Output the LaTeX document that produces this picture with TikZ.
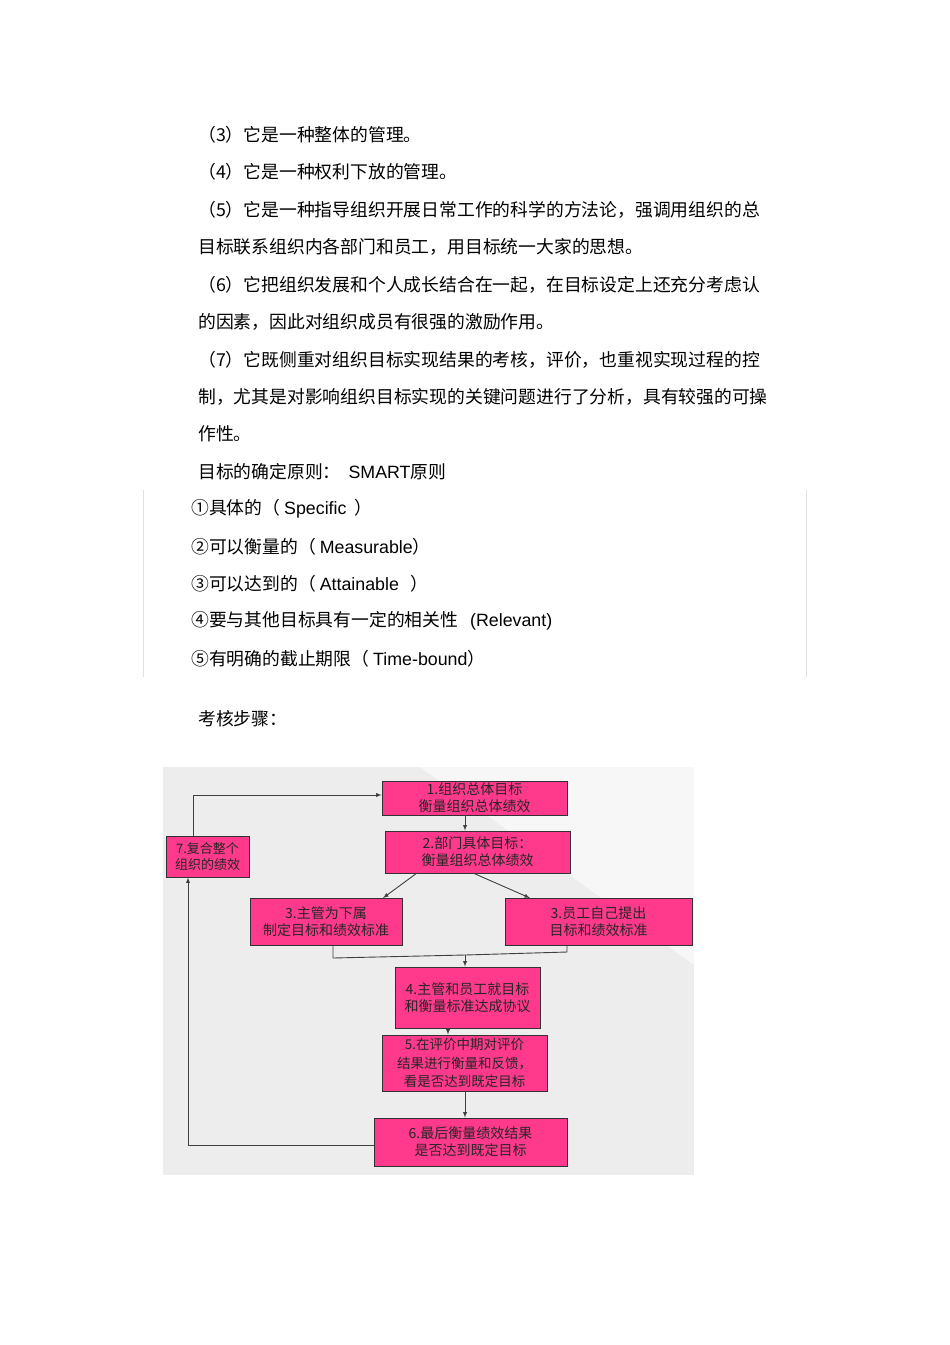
\documentclass[tikz,border=0pt]{standalone}
\usepackage{fontspec}
\setmainfont{Liberation Sans}
\newfontfamily\cjk{Noto Sans CJK SC}
\begin{document}
\begin{tikzpicture}[x=1pt,y=-1pt,
  txt/.style={anchor=west,inner sep=0pt,font=\fontsize{17.8}{20}\selectfont\cjk},
  bx/.style={draw=black!80,fill=pinkbox,line width=0.9pt,align=center,inner sep=0pt,font=\fontsize{14}{17}\selectfont\cjk,text=black!85},
  ar/.style={-latex,line width=0.9pt,draw=black!75},
  ln/.style={line width=0.9pt,draw=black!75}]
\definecolor{pinkbox}{HTML}{FF3A8C}
\useasboundingbox (0,0) rectangle (950,1345);
\fill[white] (0,0) rectangle (950,1345);
\node[txt] (t1) at (198,135) {（3）它是一种整体的管理。};
\node[txt] (t2) at (198,172) {（4）它是一种权利下放的管理。};
\node[txt] (t3) at (198,210) {（5）它是一种指导组织开展日常工作的科学的方法论，强调用组织的总};
\node[txt] (t4) at (198,247) {目标联系组织内各部门和员工，用目标统一大家的思想。};
\node[txt] (t5) at (198,285) {（6）它把组织发展和个人成长结合在一起，在目标设定上还充分考虑认};
\node[txt] (t6) at (198,322) {的因素，因此对组织成员有很强的激励作用。};
\node[txt] (t7) at (198,360) {（7）它既侧重对组织目标实现结果的考核，评价，也重视实现过程的控};
\node[txt] (t8) at (198,397) {制，尤其是对影响组织目标实现的关键问题进行了分析，具有较强的可操};
\node[txt] (t9) at (198,434) {作性。};
\node[txt] (t10) at (198,472) {目标的确定原则：\ \ {\fontspec{Liberation Sans}SMART}原则};
\draw[black!12,line width=0.6pt] (143,490) -- (143,677) (806,490) -- (806,677);
\node[txt] (s1) at (191,509) {①具体的（ {\fontspec{Liberation Sans}Specific}\ \ ）};
\node[txt] (s2) at (191,547) {②可以衡量的（ {\fontspec{Liberation Sans}Measurable}）};
\node[txt] (s3) at (191,584) {③可以达到的（ {\fontspec{Liberation Sans}Attainable}\ \ \ ）};
\node[txt] (s4) at (191,621) {④要与其他目标具有一定的相关性\ \ \ {\fontspec{Liberation Sans}(Relevant)}};
\node[txt] (s5) at (191,659) {⑤有明确的截止期限（ {\fontspec{Liberation Sans}Time-bound}）};
\node[txt] (k) at (198,719) {考核步骤：};
\fill[black!7] (163,767) rectangle (694,1175);
\fill[black!3] (420,767) -- (694,767) -- (694,965) -- cycle;
\node[bx,minimum width=185,minimum height=34] (b1) at (474.5,798) {1.组织总体目标\\衡量组织总体绩效};
\node[bx,minimum width=185,minimum height=42] (b2) at (477.5,852) {2.部门具体目标：\\衡量组织总体绩效};
\node[bx,minimum width=83,minimum height=41,font=\fontsize{13}{16}\selectfont\cjk] (b7) at (207.5,856.5) {7.复合整个\\组织的绩效};
\node[bx,minimum width=152,minimum height=47] (b3l) at (326,921.5) {3.主管为下属\\制定目标和绩效标准};
\node[bx,minimum width=187,minimum height=47] (b3r) at (598.5,921.5) {3.员工自己提出\\目标和绩效标准};
\node[bx,minimum width=145,minimum height=61] (b4) at (467.5,997.5) {4.主管和员工就目标\\和衡量标准达成协议};
\node[bx,minimum width=165,minimum height=56,font=\fontsize{13.5}{18.5}\selectfont\cjk] (b5) at (464.5,1063) {5.在评价中期对评价\\结果进行衡量和反馈，\\看是否达到既定目标};
\node[bx,minimum width=193,minimum height=48] (b6) at (470.5,1142) {6.最后衡量绩效结果\\是否达到既定目标};
\coordinate (m) at (465,955);
\draw[ar] (b7.north -| 193,0) -- (193,795) -- (b1.west |- 0,795);
\draw[ar] (b1.south -| 465,0) -- (b2.north -| 465,0);
\draw[ar] (417,873) -- (383,898);
\draw[ar] (473,873) -- (530,898);
\draw[ln] (b3l.south -| 333,0) -- (333,958) -- (465,955);
\draw[ln] (b3r.south -| 567,0) -- (567,952) -- (465,955);
\draw[ar] (m) -- (b4.north -| 465,0);
\draw[ar] (b4.south -| 448,0) -- (b5.north -| 448,0);
\draw[ar] (b5.south -| 465,0) -- (b6.north -| 465,0);
\draw[ar] (b6.west |- 0,1145) -- (188,1145) -- (b7.south -| 188,0);
\end{tikzpicture}
\end{document}
